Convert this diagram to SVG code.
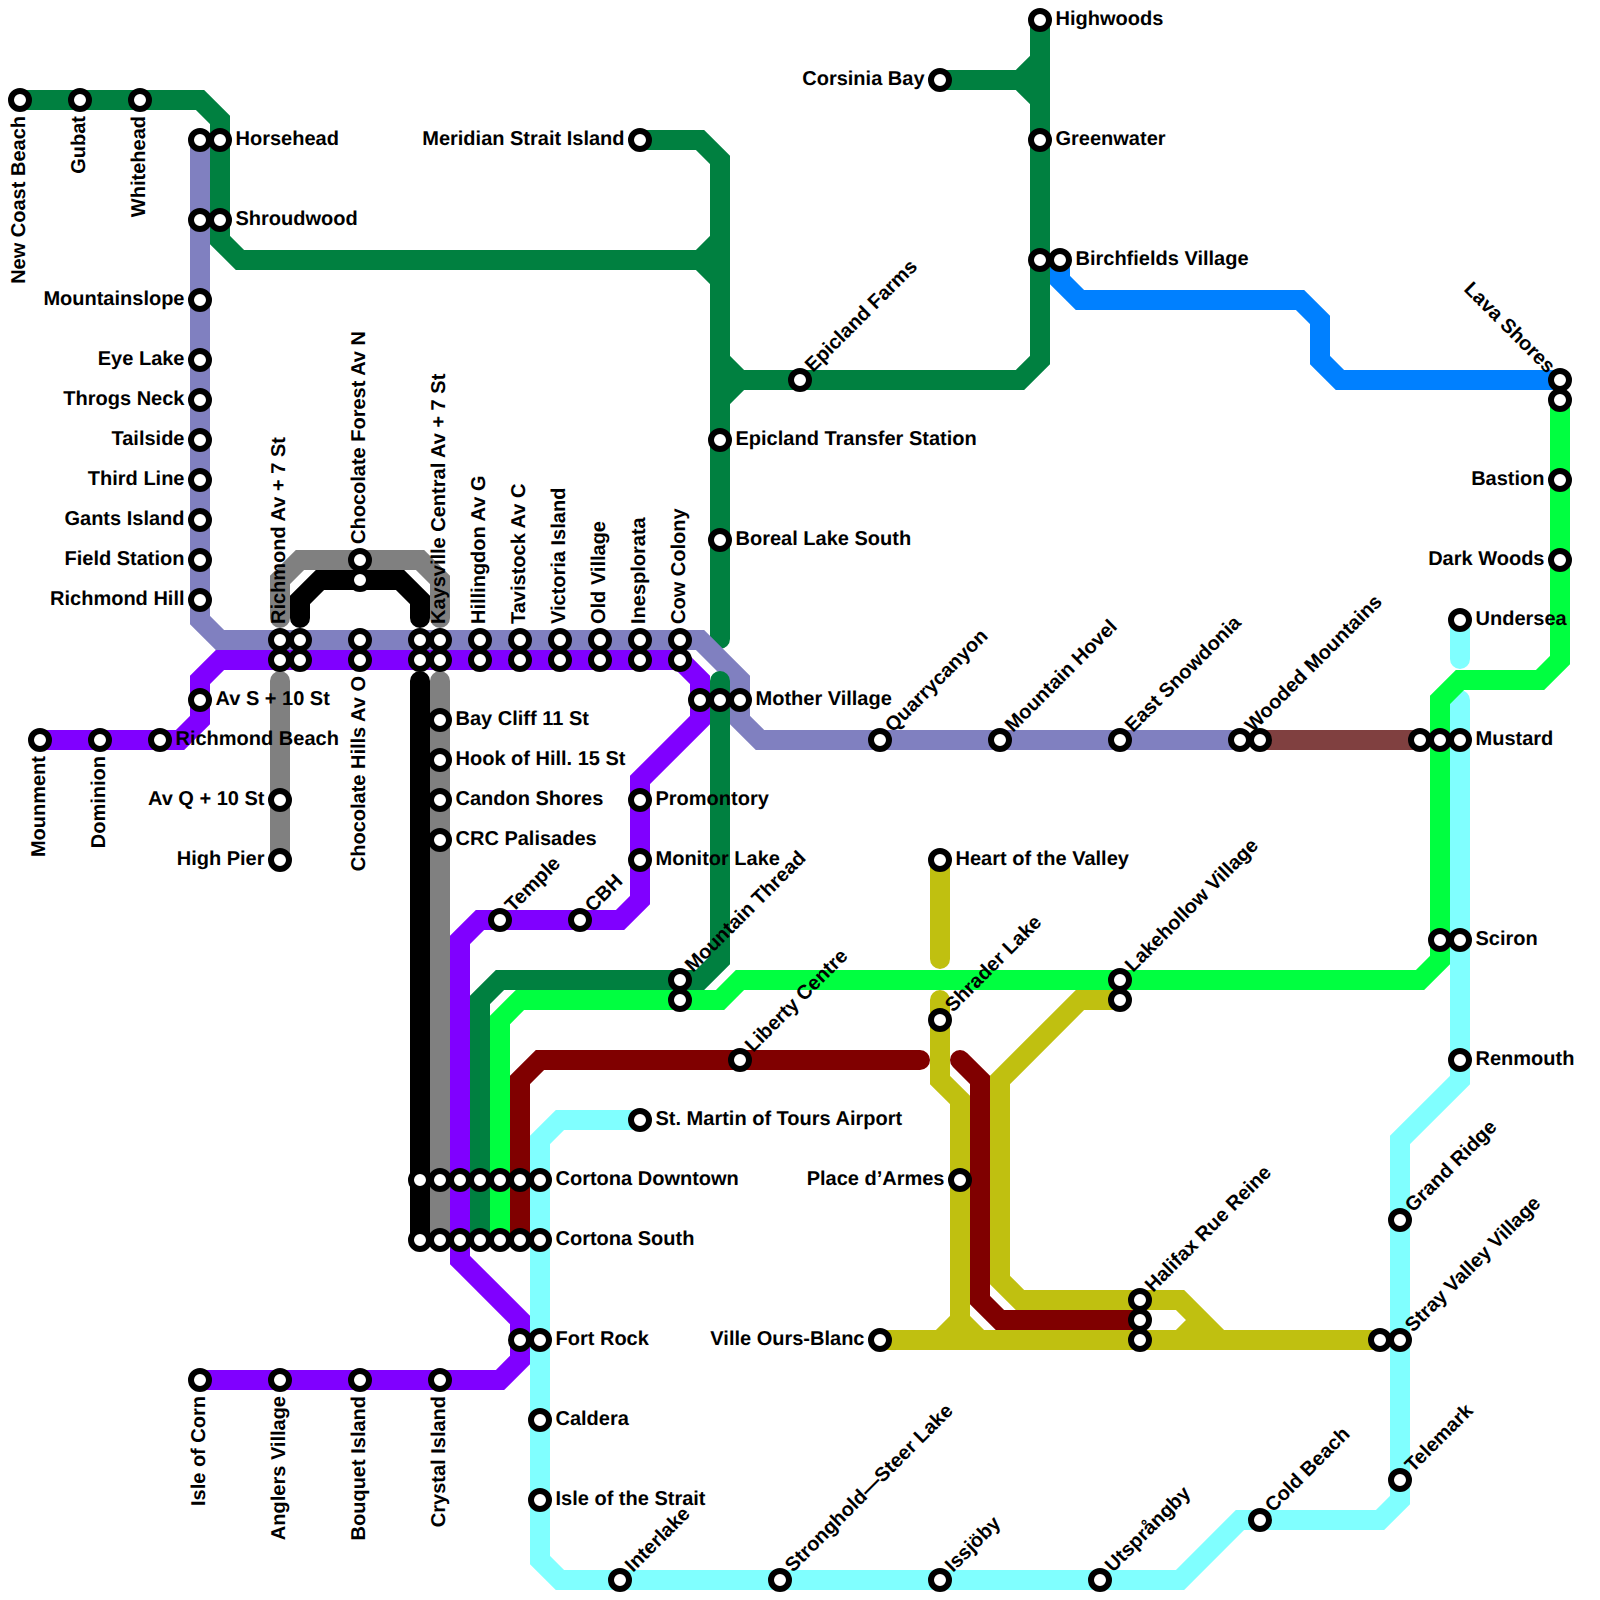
<svg xmlns="http://www.w3.org/2000/svg" width="1600" height="1600" viewBox="0 0 1600 1600">
<style>
.l{fill:none;stroke-width:20;stroke-linecap:round;stroke-linejoin:miter}
circle{fill:#fff;stroke:#000;stroke-width:6}
text{font-family:"Liberation Sans",Arial,sans-serif;font-size:20px;font-weight:700;fill:#000;text-rendering:geometricPrecision}
.e{text-anchor:end}
</style>
<rect width="1600" height="1600" fill="#fff"/>
<g id="connectors">
<path class="l" stroke="#8000ff" d="M40 740H180L200 720V680L220 660H680L700 680V720L640 780V900L620 920H480L460 940V1260L520 1320V1360L500 1380H200"/>
<path class="l" stroke="#c0c010" d="M940 860V959M940 1000V1080L960 1100V1320L940 1340M960 1320L980 1340M880 1340H1380M1120 1000H1080L1000 1080V1280L1020 1300H1180L1220 1340M1180 1340L1200 1320"/>
<path class="l" stroke="#800000" d="M920 1060H540L520 1080V1240M960 1060L980 1080V1300L1000 1320H1140"/>
<path class="l" stroke="#804040" d="M1260 740H1420"/>
<path class="l" stroke="#80ffff" d="M640 1120H560L540 1140V1560L560 1580H1180L1240 1520H1380L1400 1500V1140L1460 1080V700M1460 620V659"/>
<path class="l" stroke="#0080ff" d="M1060 260V280L1080 300H1300L1320 320V360L1340 380H1560"/>
<path class="l" stroke="#808080" d="M280 860V681M280 618V580L300 560H420L440 580V618M440 681V1240"/>
<path class="l" stroke="#000" d="M300 618V600L320 580H400L420 600V618M420 681V1240"/>
<path class="l" stroke="#008040" d="M20 100H200L220 120V240L240 260H700L720 280M700 260L720 240M640 140H700L720 160V639M1040 20V360L1020 380H740L720 400M740 380L720 360M940 80H1020L1040 60M1020 80L1040 100"/>
<path class="l" stroke="#8080c0" d="M200 140V620L220 640H700L740 680V720L760 740H1240"/>
<path class="l" stroke="#008040" d="M720 681V960L700 980H500L480 1000V1240"/>
<path class="l" stroke="#00ff40" d="M1560 400V660L1540 680H1460L1440 700V960L1420 980H740L720 1000H520L500 1020V1240"/>
</g>
<g id="new-coast-beach"><circle cx="20" cy="100" r="9"/><text class="e" transform="translate(25 116) rotate(-90)">New Coast Beach</text></g>
<g id="gubat"><circle cx="80" cy="100" r="9"/><text class="e" transform="translate(85 116) rotate(-90)">Gubat</text></g>
<g id="whitehead"><circle cx="140" cy="100" r="9"/><text class="e" transform="translate(145 116) rotate(-90)">Whitehead</text></g>
<g id="s-200-140"><circle cx="200" cy="140" r="9"/></g>
<g id="horsehead"><circle cx="220" cy="140" r="9"/><text x="235.5" y="145">Horsehead</text></g>
<g id="s-200-220"><circle cx="200" cy="220" r="9"/></g>
<g id="shroudwood"><circle cx="220" cy="220" r="9"/><text x="235.5" y="225">Shroudwood</text></g>
<g id="mountainslope"><circle cx="200" cy="300" r="9"/><text class="e" x="184.5" y="305">Mountainslope</text></g>
<g id="eye-lake"><circle cx="200" cy="360" r="9"/><text class="e" x="184.5" y="365">Eye Lake</text></g>
<g id="throgs-neck"><circle cx="200" cy="400" r="9"/><text class="e" x="184.5" y="405">Throgs Neck</text></g>
<g id="tailside"><circle cx="200" cy="440" r="9"/><text class="e" x="184.5" y="445">Tailside</text></g>
<g id="third-line"><circle cx="200" cy="480" r="9"/><text class="e" x="184.5" y="485">Third Line</text></g>
<g id="gants-island"><circle cx="200" cy="520" r="9"/><text class="e" x="184.5" y="525">Gants Island</text></g>
<g id="field-station"><circle cx="200" cy="560" r="9"/><text class="e" x="184.5" y="565">Field Station</text></g>
<g id="richmond-hill"><circle cx="200" cy="600" r="9"/><text class="e" x="184.5" y="605">Richmond Hill</text></g>
<g id="richmond-av"><circle cx="280" cy="640" r="9"/><circle cx="280" cy="660" r="9"/><text transform="translate(285 624) rotate(-90)">Richmond Av + 7 St</text></g>
<g id="s-300-640"><circle cx="300" cy="640" r="9"/><circle cx="300" cy="660" r="9"/></g>
<g id="chocolate-forest"><circle cx="360" cy="560" r="9"/><circle cx="360" cy="580" r="9"/><text transform="translate(365 544) rotate(-90)">Chocolate Forest Av N</text></g>
<g id="chocolate-hills"><circle cx="360" cy="640" r="9"/><circle cx="360" cy="660" r="9"/><text class="e" transform="translate(365 676) rotate(-90)">Chocolate Hills Av O</text></g>
<g id="s-420-640"><circle cx="420" cy="640" r="9"/><circle cx="420" cy="660" r="9"/></g>
<g id="kaysville"><circle cx="440" cy="640" r="9"/><circle cx="440" cy="660" r="9"/><text transform="translate(445 624) rotate(-90)">Kaysville Central Av + 7 St</text></g>
<g id="hillingdon"><circle cx="480" cy="640" r="9"/><circle cx="480" cy="660" r="9"/><text transform="translate(485 624) rotate(-90)">Hillingdon Av G</text></g>
<g id="tavistock"><circle cx="520" cy="640" r="9"/><circle cx="520" cy="660" r="9"/><text transform="translate(525 624) rotate(-90)">Tavistock Av C</text></g>
<g id="victoria-island"><circle cx="560" cy="640" r="9"/><circle cx="560" cy="660" r="9"/><text transform="translate(565 624) rotate(-90)">Victoria Island</text></g>
<g id="old-village"><circle cx="600" cy="640" r="9"/><circle cx="600" cy="660" r="9"/><text transform="translate(605 624) rotate(-90)">Old Village</text></g>
<g id="inesplorata"><circle cx="640" cy="640" r="9"/><circle cx="640" cy="660" r="9"/><text transform="translate(645 624) rotate(-90)">Inesplorata</text></g>
<g id="cow-colony"><circle cx="680" cy="640" r="9"/><circle cx="680" cy="660" r="9"/><text transform="translate(685 624) rotate(-90)">Cow Colony</text></g>
<g id="av-s"><circle cx="200" cy="700" r="9"/><text x="215.5" y="705">Av S + 10 St</text></g>
<g id="mounment"><circle cx="40" cy="740" r="9"/><text class="e" transform="translate(45 756) rotate(-90)">Mounment</text></g>
<g id="dominion"><circle cx="100" cy="740" r="9"/><text class="e" transform="translate(105 756) rotate(-90)">Dominion</text></g>
<g id="richmond-beach"><circle cx="160" cy="740" r="9"/><text x="175.5" y="745">Richmond Beach</text></g>
<g id="av-q"><circle cx="280" cy="800" r="9"/><text class="e" x="264.5" y="805">Av Q + 10 St</text></g>
<g id="high-pier"><circle cx="280" cy="860" r="9"/><text class="e" x="264.5" y="865">High Pier</text></g>
<g id="s-700-700"><circle cx="700" cy="700" r="9"/></g>
<g id="s-720-700"><circle cx="720" cy="700" r="9"/></g>
<g id="mother-village"><circle cx="740" cy="700" r="9"/><text x="755.5" y="705">Mother Village</text></g>
<g id="bay-cliff"><circle cx="440" cy="720" r="9"/><text x="455.5" y="725">Bay Cliff 11 St</text></g>
<g id="hook-of-hill"><circle cx="440" cy="760" r="9"/><text x="455.5" y="765">Hook of Hill. 15 St</text></g>
<g id="candon-shores"><circle cx="440" cy="800" r="9"/><text x="455.5" y="805">Candon Shores</text></g>
<g id="crc-palisades"><circle cx="440" cy="840" r="9"/><text x="455.5" y="845">CRC Palisades</text></g>
<g id="promontory"><circle cx="640" cy="800" r="9"/><text x="655.5" y="805">Promontory</text></g>
<g id="monitor-lake"><circle cx="640" cy="860" r="9"/><text x="655.5" y="865">Monitor Lake</text></g>
<g id="temple"><circle cx="500" cy="920" r="9"/><text transform="translate(513 913) rotate(-45)">Temple</text></g>
<g id="cbh"><circle cx="580" cy="920" r="9"/><text transform="translate(593 913) rotate(-45)">CBH</text></g>
<g id="epicland-farms"><circle cx="800" cy="380" r="9"/><text transform="translate(813 373) rotate(-45)">Epicland Farms</text></g>
<g id="epicland-transfer"><circle cx="720" cy="440" r="9"/><text x="735.5" y="445">Epicland Transfer Station</text></g>
<g id="boreal-lake"><circle cx="720" cy="540" r="9"/><text x="735.5" y="545">Boreal Lake South</text></g>
<g id="meridian"><circle cx="640" cy="140" r="9"/><text class="e" x="624.5" y="145">Meridian Strait Island</text></g>
<g id="corsinia-bay"><circle cx="940" cy="80" r="9"/><text class="e" x="924.5" y="85">Corsinia Bay</text></g>
<g id="highwoods"><circle cx="1040" cy="20" r="9"/><text x="1055.5" y="25">Highwoods</text></g>
<g id="greenwater"><circle cx="1040" cy="140" r="9"/><text x="1055.5" y="145">Greenwater</text></g>
<g id="s-1040-260"><circle cx="1040" cy="260" r="9"/></g>
<g id="birchfields"><circle cx="1060" cy="260" r="9"/><text x="1075.5" y="265">Birchfields Village</text></g>
<g id="quarrycanyon"><circle cx="880" cy="740" r="9"/><text transform="translate(893 733) rotate(-45)">Quarrycanyon</text></g>
<g id="mountain-hovel"><circle cx="1000" cy="740" r="9"/><text transform="translate(1013 733) rotate(-45)">Mountain Hovel</text></g>
<g id="east-snowdonia"><circle cx="1120" cy="740" r="9"/><text transform="translate(1133 733) rotate(-45)">East Snowdonia</text></g>
<g id="s-1240-740"><circle cx="1240" cy="740" r="9"/></g>
<g id="wooded-mountains"><circle cx="1260" cy="740" r="9"/><text transform="translate(1253 733) rotate(-45)">Wooded Mountains</text></g>
<g id="s-1420-740"><circle cx="1420" cy="740" r="9"/></g>
<g id="s-1440-740"><circle cx="1440" cy="740" r="9"/></g>
<g id="mustard"><circle cx="1460" cy="740" r="9"/><text x="1475.5" y="745">Mustard</text></g>
<g id="undersea"><circle cx="1460" cy="620" r="9"/><text x="1475.5" y="625">Undersea</text></g>
<g id="lava-shores"><circle cx="1560" cy="380" r="9"/><circle cx="1560" cy="400" r="9"/><text class="e" transform="translate(1547 374) rotate(45)">Lava Shores</text></g>
<g id="bastion"><circle cx="1560" cy="480" r="9"/><text class="e" x="1544.5" y="485">Bastion</text></g>
<g id="dark-woods"><circle cx="1560" cy="560" r="9"/><text class="e" x="1544.5" y="565">Dark Woods</text></g>
<g id="s-1440-940"><circle cx="1440" cy="940" r="9"/></g>
<g id="sciron"><circle cx="1460" cy="940" r="9"/><text x="1475.5" y="945">Sciron</text></g>
<g id="renmouth"><circle cx="1460" cy="1060" r="9"/><text x="1475.5" y="1065">Renmouth</text></g>
<g id="heart-of-the-valley"><circle cx="940" cy="860" r="9"/><text x="955.5" y="865">Heart of the Valley</text></g>
<g id="shrader-lake"><circle cx="940" cy="1020" r="9"/><text transform="translate(953 1013) rotate(-45)">Shrader Lake</text></g>
<g id="mountain-thread"><circle cx="680" cy="980" r="9"/><circle cx="680" cy="1000" r="9"/><text transform="translate(693 973) rotate(-45)">Mountain Thread</text></g>
<g id="lakehollow"><circle cx="1120" cy="980" r="9"/><circle cx="1120" cy="1000" r="9"/><text transform="translate(1133 973) rotate(-45)">Lakehollow Village</text></g>
<g id="liberty-centre"><circle cx="740" cy="1060" r="9"/><text transform="translate(753 1053) rotate(-45)">Liberty Centre</text></g>
<g id="st-martin"><circle cx="640" cy="1120" r="9"/><text x="655.5" y="1125">St. Martin of Tours Airport</text></g>
<g id="place-darmes"><circle cx="960" cy="1180" r="9"/><text class="e" x="944.5" y="1185">Place d’Armes</text></g>
<g id="s-1180-a"><circle cx="420" cy="1180" r="9"/><circle cx="440" cy="1180" r="9"/><circle cx="460" cy="1180" r="9"/><circle cx="480" cy="1180" r="9"/><circle cx="500" cy="1180" r="9"/><circle cx="520" cy="1180" r="9"/></g>
<g id="cortona-downtown"><circle cx="540" cy="1180" r="9"/><text x="555.5" y="1185">Cortona Downtown</text></g>
<g id="s-1240-a"><circle cx="420" cy="1240" r="9"/><circle cx="440" cy="1240" r="9"/><circle cx="460" cy="1240" r="9"/><circle cx="480" cy="1240" r="9"/><circle cx="500" cy="1240" r="9"/><circle cx="520" cy="1240" r="9"/></g>
<g id="cortona-south"><circle cx="540" cy="1240" r="9"/><text x="555.5" y="1245">Cortona South</text></g>
<g id="s-520-1340"><circle cx="520" cy="1340" r="9"/></g>
<g id="fort-rock"><circle cx="540" cy="1340" r="9"/><text x="555.5" y="1345">Fort Rock</text></g>
<g id="ville-ours-blanc"><circle cx="880" cy="1340" r="9"/><text class="e" x="864.5" y="1345">Ville Ours-Blanc</text></g>
<g id="halifax"><circle cx="1140" cy="1300" r="9"/><circle cx="1140" cy="1320" r="9"/><circle cx="1140" cy="1340" r="9"/><text transform="translate(1153 1293) rotate(-45)">Halifax Rue Reine</text></g>
<g id="s-1380-1340"><circle cx="1380" cy="1340" r="9"/></g>
<g id="stray-valley"><circle cx="1400" cy="1340" r="9"/><text transform="translate(1413 1333) rotate(-45)">Stray Valley Village</text></g>
<g id="grand-ridge"><circle cx="1400" cy="1220" r="9"/><text transform="translate(1413 1213) rotate(-45)">Grand Ridge</text></g>
<g id="telemark"><circle cx="1400" cy="1480" r="9"/><text transform="translate(1413 1473) rotate(-45)">Telemark</text></g>
<g id="cold-beach"><circle cx="1260" cy="1520" r="9"/><text transform="translate(1273 1513) rotate(-45)">Cold Beach</text></g>
<g id="interlake"><circle cx="620" cy="1580" r="9"/><text transform="translate(633 1573) rotate(-45)">Interlake</text></g>
<g id="stronghold"><circle cx="780" cy="1580" r="9"/><text transform="translate(793 1573) rotate(-45)">Stronghold—Steer Lake</text></g>
<g id="issjoby"><circle cx="940" cy="1580" r="9"/><text transform="translate(953 1573) rotate(-45)">Issjöby</text></g>
<g id="utsprangby"><circle cx="1100" cy="1580" r="9"/><text transform="translate(1113 1573) rotate(-45)">Utsprångby</text></g>
<g id="caldera"><circle cx="540" cy="1420" r="9"/><text x="555.5" y="1425">Caldera</text></g>
<g id="isle-of-the-strait"><circle cx="540" cy="1500" r="9"/><text x="555.5" y="1505">Isle of the Strait</text></g>
<g id="isle-of-corn"><circle cx="200" cy="1380" r="9"/><text class="e" transform="translate(205 1396) rotate(-90)">Isle of Corn</text></g>
<g id="anglers-village"><circle cx="280" cy="1380" r="9"/><text class="e" transform="translate(285 1396) rotate(-90)">Anglers Village</text></g>
<g id="bouquet-island"><circle cx="360" cy="1380" r="9"/><text class="e" transform="translate(365 1396) rotate(-90)">Bouquet Island</text></g>
<g id="crystal-island"><circle cx="440" cy="1380" r="9"/><text class="e" transform="translate(445 1396) rotate(-90)">Crystal Island</text></g>
</svg>
